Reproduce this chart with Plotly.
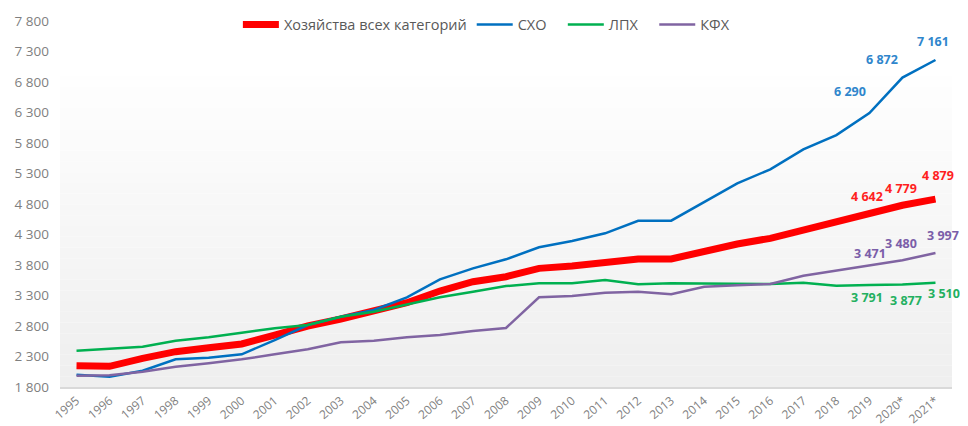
from plotly import graph_objects as go

# Годы (2020*, 2021* - оценка)
years = [str(y) for y in range(1995, 2020)] + ["2020*", "2021*"]

# Значения рядов
total = [2149, 2139, 2270, 2379, 2444, 2505, 2652, 2800, 2915, 3034, 3182, 3373, 3526, 3608,
         3745, 3783, 3854, 3898, 3898, 4029, 4144, 4237, 4373, 4504, 4642, 4779, 4879]
sho = [2002, 1969, 2067, 2254, 2280, 2336, 2570, 2816, 2952, 3062, 3270, 3565, 3745, 3893,
       4090, 4193, 4319, 4526, 4526, 4837, 5139, 5368, 5696, 5930, 6290, 6872, 7161]
lph = [2395, 2423, 2461, 2559, 2614, 2690, 2762, 2816, 2952, 3034, 3155, 3270, 3362, 3455,
       3500, 3500, 3554, 3483, 3500, 3500, 3488, 3488, 3510, 3460, 3471, 3480, 3510]
kfh = [1985, 1992, 2051, 2133, 2188, 2254, 2336, 2418, 2533, 2559, 2614, 2652, 2718, 2767,
       3270, 3291, 3346, 3362, 3319, 3444, 3466, 3488, 3624, 3707, 3791, 3877, 3997]

# Подписи данных (как на исходной картинке, у ЛПХ и КФХ перепутаны)
total_labels = [4642, 4779, 4879]
sho_labels = [6290, 6872, 7161]
lph_labels = [3791, 3877, 3510]
kfh_labels = [3471, 3480, 3997]

names = ["Хозяйства всех категорий", "СХО", "ЛПХ", "КФХ"]
series = [total, sho, lph, kfh]
labels = [total_labels, sho_labels, lph_labels, kfh_labels]
line_colors = ["#ff0000", "#0070c0", "#00b050", "#8064a2"]
line_widths = [7, 2.5, 2.5, 2.5]
label_colors = ["#ff1f1f", "#2f86cc", "#23b060", "#7b5ea9"]
# смещения подписей в пикселях (dx, dy вверх) для трёх последних точек
label_shifts = [
    [(-2, 17), (-1, 17), (3, 24)],
    [(-19, 22), (-20, 18), (-2, 18)],
    [(-2, -12), (4, -16), (9, -11)],
    [(1, 12), (-1, 17), (8, 17)],
]
# доп. отступ после подписи в легенде
legend_pad = ["", "\u00a0\u00a0\u00a0", "\u00a0\u00a0\u00a0", ""]

fig = go.Figure()

# градиентный фон области построения
n_bands = 30
top = 0.88
for i in range(n_bands):
    t = i / (n_bands - 1)
    c = int(239 + (255 - 239) * t)
    fig.add_shape(type="rect", xref="paper", yref="paper",
                  x0=0, x1=1, y0=top * i / n_bands, y1=top * (i + 1) / n_bands,
                  fillcolor="rgb(%d,%d,%d)" % (c, c, c), line_width=0, layer="below")

for name, pad, vals, col, w in zip(names, legend_pad, series, line_colors, line_widths):
    fig.add_trace(go.Scatter(x=years, y=vals, name=name + pad, mode="lines",
                             line=dict(color=col, width=w)))

for vals, labs, col, shifts in zip(series, labels, label_colors, label_shifts):
    n = len(labs)
    for k in range(n):
        idx = len(vals) - n + k
        # на категориальной оси позиция = номер категории
        fig.add_annotation(x=idx, y=vals[idx],
                           text="{:,}".format(labs[k]).replace(",", " "),
                           showarrow=False, xshift=shifts[k][0], yshift=shifts[k][1],
                           font=dict(color=col, size=12.5, family="Open Sans", weight="bold"))

# страница имеет отступ 8px, поэтому фигура чуть меньше окна
fig.update_layout(
    width=960, height=418,
    margin=dict(l=52, r=16, t=13, b=39, autoexpand=False),
    paper_bgcolor="white",
    plot_bgcolor="rgba(0,0,0,0)",
    separators=", ",
    font=dict(family="Open Sans", color="#595959", size=12),
    showlegend=True,
    legend=dict(orientation="h", x=0.478, xanchor="center", y=0.99, yanchor="middle",
                itemwidth=36,
                bgcolor="rgba(0,0,0,0)", font=dict(size=14.5, color="#595959")),
    xaxis=dict(type="category", range=[-0.5, len(years) - 0.5], showgrid=False,
               tickangle=-40, ticks="", automargin=False,
               showline=True, linecolor="#d9d9d9", linewidth=2,
               tickfont=dict(size=12, color="#7f7f7f")),
    yaxis=dict(range=[1800, 7800], tick0=1800, dtick=500, showgrid=False,
               zeroline=False, tickformat=",d", ticklabelstandoff=10, automargin=False,
               tickfont=dict(size=13.5, color="#7f7f7f")),
)

fig.write_html("out.html")
